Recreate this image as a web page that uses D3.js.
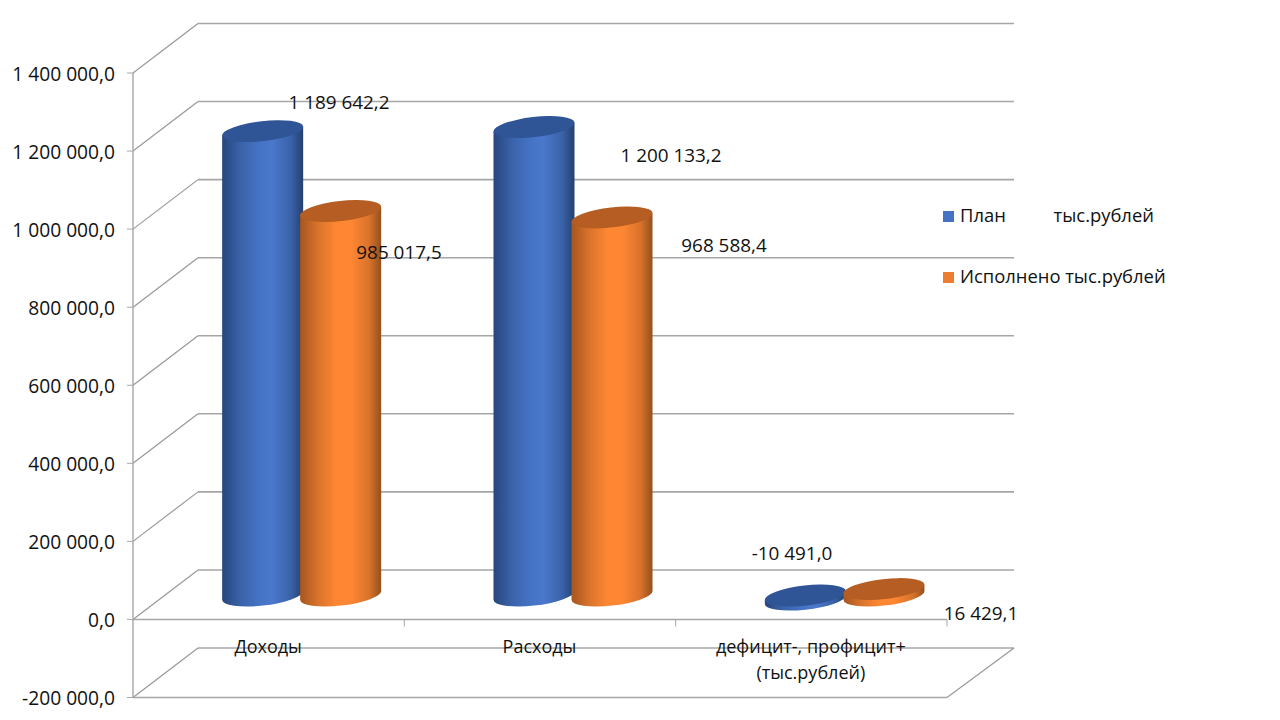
<!DOCTYPE html>
<html><head><meta charset="utf-8">
<script src="https://cdnjs.cloudflare.com/ajax/libs/d3/7.8.5/d3.min.js"></script>
<style>html,body{margin:0;background:#fff}svg{display:block}text{font-family:"Open Sans",sans-serif;font-size:18.4px;fill:#111}</style>
</head><body><svg id="c" width="1280" height="720"></svg>
<script>
const categories = [["Доходы"],["Расходы"],["дефицит-, профицит+","(тыс.рублей)"]];
const seriesNames = ["План          тыс.рублей","Исполнено тыс.рублей"];
const planValues = [1189642.2,1200133.2,-10491.0];
const doneValues = [985017.5,968588.4,16429.1];
const planLabels = ["1 189 642,2","1 200 133,2","-10 491,0"];
const doneLabels = ["985 017,5","968 588,4","16 429,1"];
const yTicks = [-200000,0,200000,400000,600000,800000,1000000,1200000,1400000];
const tickLabels = ["-200 000,0","0,0","200 000,0","400 000,0","600 000,0","800 000,0","1 000 000,0","1 200 000,0","1 400 000,0"];

const svg = d3.select("#c");
const y = d3.scaleLinear().domain([-200000,1400000]).range([697.5,73]);
const x = d3.scaleBand().domain(d3.range(3)).range([133,947]);
const depthX = 66, depthY = -49.5;
const series = [
 {name:seriesNames[0],values:planValues,labels:planLabels,swatch:"#4472c4",top:"#2f5597",stops:["#27467c","#3a62a8","#4472c4","#4a78cc","#3a62a8","#23406f"],
  labelPos:[[339,103],[671,156],[792,554]]},
 {name:seriesNames[1],values:doneValues,labels:doneLabels,swatch:"#ed7d31",top:"#b55d22",stops:["#a5561f","#d9732c","#ff8733","#ff8733","#d9732c","#94501d"],
  labelPos:[[399,253],[724,246],[981,614]]}
];
const defs = svg.append("defs");
series.forEach((s,i)=>{
  const g = defs.append("linearGradient").attr("id","g"+i);
  [0,.22,.45,.62,.85,1].forEach((o,k)=>g.append("stop").attr("offset",o).attr("stop-color",s.stops[k]));
});

// walls
const grid = svg.append("g").attr("fill","none").attr("stroke","#a6a6a6");
yTicks.forEach(t=>{
  const yy = y(t);
  grid.append("line").attr("x1",x.range()[0]).attr("y1",yy).attr("x2",x.range()[0]+depthX-1).attr("y2",yy+depthY).attr("stroke","#999").attr("stroke-width",1.2);
  grid.append("line").attr("x1",x.range()[0]+depthX-1).attr("y1",yy+depthY).attr("x2",x.range()[1]+depthX+1).attr("y2",yy+depthY).attr("stroke-width",1.6);
  grid.append("line").attr("x1",127).attr("y1",yy).attr("x2",133).attr("y2",yy).attr("stroke-width",1);
});
grid.append("line").attr("x1",133).attr("y1",y(1400000)).attr("x2",133).attr("y2",y(-200000)).attr("stroke-width",1.4);
grid.append("line").attr("x1",133).attr("y1",y(0)).attr("x2",947).attr("y2",y(0)).attr("stroke-width",1.4);
grid.append("line").attr("x1",133).attr("y1",y(-200000)).attr("x2",947).attr("y2",y(-200000)).attr("stroke-width",1.4);
grid.append("line").attr("x1",947).attr("y1",y(-200000)).attr("x2",947+depthX+1).attr("y2",y(-200000)+depthY).attr("stroke","#999").attr("stroke-width",1.2);
d3.range(3).forEach(i=>{
  const xx = x(i)+x.bandwidth();
  grid.append("line").attr("x1",xx).attr("y1",y(0)).attr("x2",xx).attr("y2",y(0)+7).attr("stroke-width",1);
});

// cylinders
const rx = 40.5, ry = 10, rot = -6.5, th = rot*Math.PI/180;
const tipY = Math.sin(th)*rx*0.95;
const zero = y(0)+depthY/2+0.8;
const scaleH = v => y(v)-y(0);
const offsets = [-39,39];
const cyl = svg.append("g");
d3.range(3).forEach(c=>{
  series.forEach((s,i)=>{
    const cx = x(c)+x.bandwidth()/2+depthX/2+offsets[i]+(i===1&&c===2?0.6:0);
    const topY = zero+scaleH(s.values[c]);
    const y1 = Math.min(topY,zero), y2 = Math.max(topY,zero);
    const side = `M${cx-rx},${y1-tipY} L${cx-rx},${y2-tipY} A${rx},${ry} ${rot} 0 0 ${cx+rx},${y2+tipY} L${cx+rx},${y1+tipY} Z`;
    const g = cyl.append("g");
    g.append("path").attr("d",side).attr("fill",`url(#g${i})`);
    g.append("ellipse").attr("cx",cx).attr("cy",y1).attr("rx",rx+.3).attr("ry",ry)
      .attr("transform",`rotate(${rot} ${cx} ${y1})`).attr("fill",s.top);
  });
});

// axis labels
svg.append("g").selectAll("text").data(yTicks).join("text")
  .attr("x",115).attr("y",d=>y(d)+7.6).attr("text-anchor","end").style("font-size","19.2px").text((d,i)=>tickLabels[i]);
categories.forEach((lines,c)=>{
  const t = svg.append("text").attr("text-anchor","middle").style("font-size","18px");
  lines.forEach((l,k)=>t.append("tspan").attr("x",x(c)+x.bandwidth()/2-0.5).attr("y",y(0)+33.5+k*26).style("white-space","pre").text(l));
});
// data labels
series.forEach(s=>s.labels.forEach((l,c)=>{
  svg.append("text").attr("x",s.labelPos[c][0]).attr("y",s.labelPos[c][1]+5.8).attr("text-anchor","middle").style("font-size","18.9px").text(l);
}));
// legend
series.forEach((s,i)=>{
  const ly = [216,277][i];
  svg.append("rect").attr("x",943).attr("y",ly-5).attr("width",11).attr("height",11).attr("fill",s.swatch);
  svg.append("text").attr("x",960).attr("y",ly+5.6).style("white-space","pre").text(s.name);
});
</script></body></html>
